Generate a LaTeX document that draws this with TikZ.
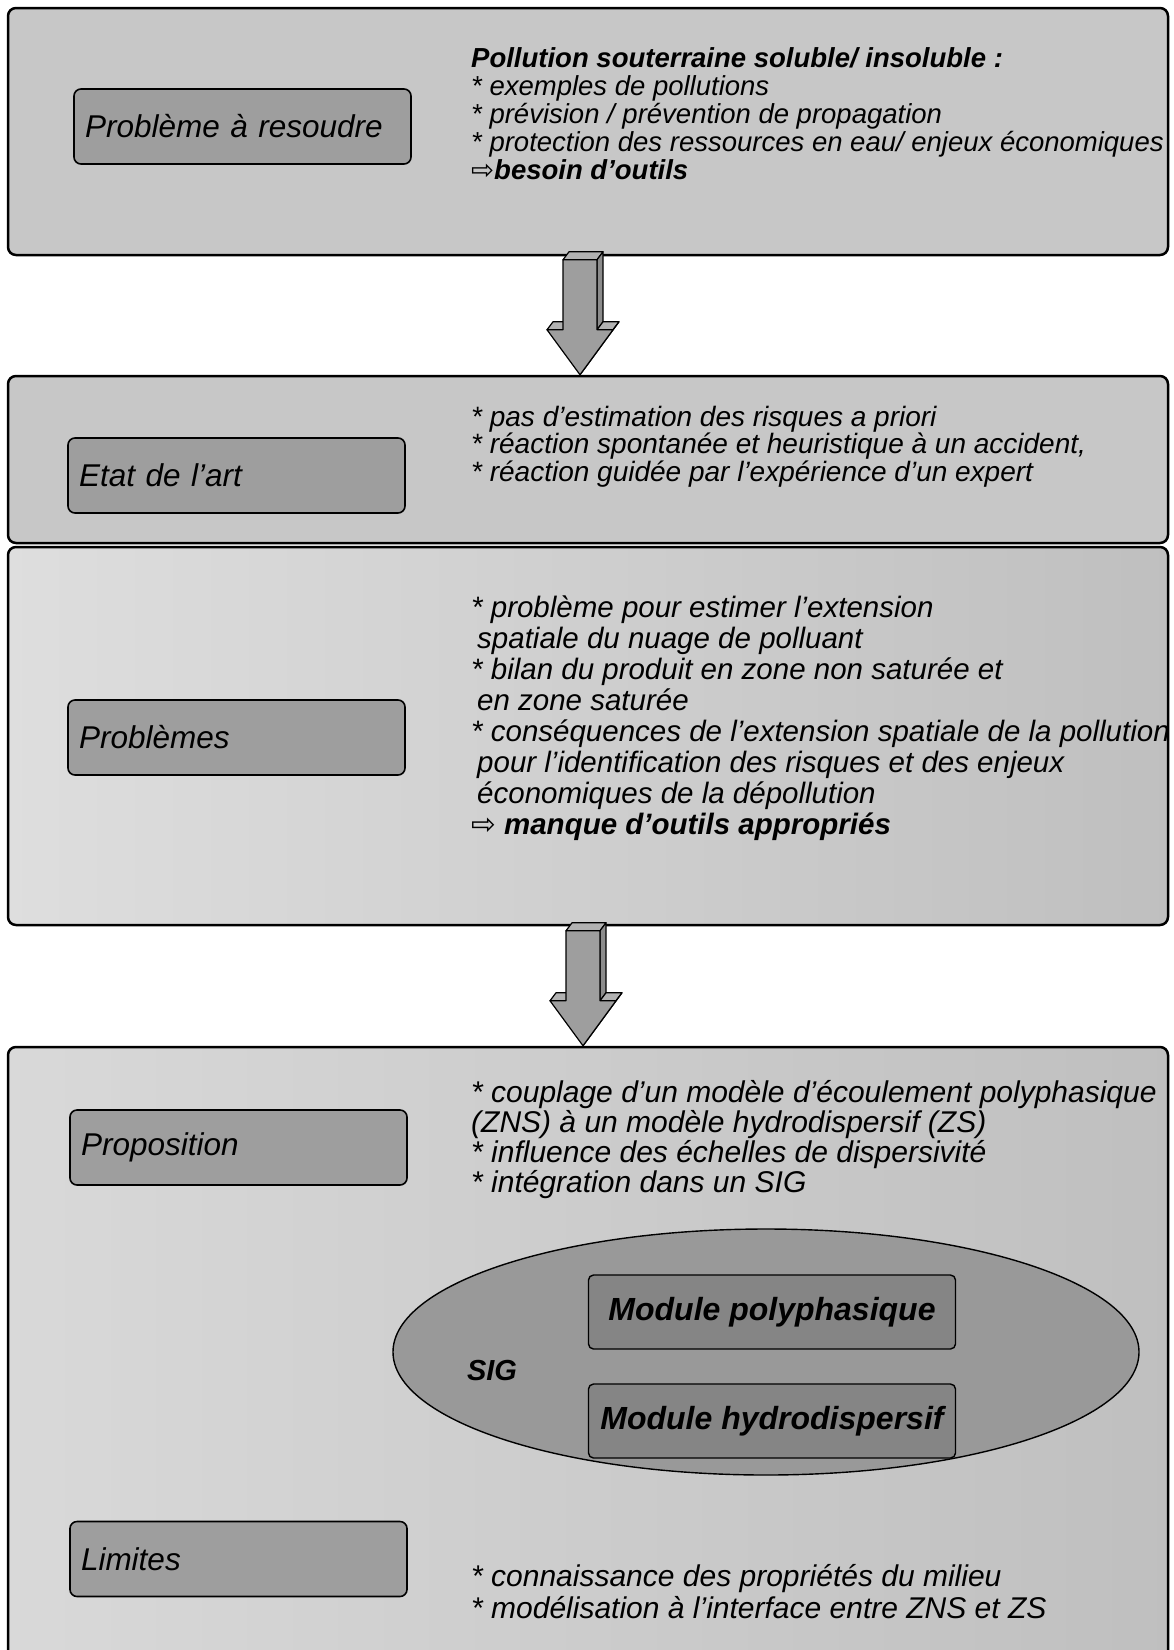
\documentclass[tikz,border=0pt]{standalone}
\usepackage{fontspec}
\usetikzlibrary{shapes.geometric}
\setmainfont{Liberation Sans}
\newfontfamily\symbfont{DejaVu Sans}
\newcommand{\imp}{{\symbfont\upshape ⇨}}

\begin{document}
\begin{tikzpicture}[x=1pt, y=-1pt, line join=round]
    \tikzstyle{frame}=[draw, line width=2.5pt, rounded corners=8pt, fill=black!22, inner sep=0pt];
    \tikzstyle{tag}=[draw, line width=1.6pt, rounded corners=7pt, fill=black!38, text width=315pt, inner xsep=11pt, minimum height=75pt, align=left, font=\fontsize{31.5}{36}\selectfont\itshape];
    \tikzstyle{module}=[draw, line width=1.4pt, rounded corners=5pt, fill=black!48, minimum width=367pt, minimum height=74pt, font=\fontsize{32}{36}\selectfont\bfseries\itshape];
    \tikzset{txt/.style={anchor=west, inner sep=0pt, text height=21pt, text depth=7pt, font=\fontsize{#1}{34}\selectfont\itshape}}
    \tikzset{bigarrow/.pic={
        \filldraw[fill=black!30, line width=1.2pt] (-17,-115) -- (-11,-123) -- (23,-123) -- (17,-115) -- cycle;
        \filldraw[fill=black!45, line width=1.2pt] (17,-115) -- (23,-123) -- (23,-53) -- (17,-45) -- cycle;
        \filldraw[fill=black!30, line width=1.2pt] (17,-45) -- (23,-53) -- (39,-53) -- (33,-45) -- cycle;
        \filldraw[fill=black!30, line width=1.2pt] (-33,-45) -- (-27,-53) -- (-11,-53) -- (-17,-45) -- cycle;
        \filldraw[fill=black!45, line width=1.2pt] (33,-45) -- (39,-53) -- (6,-8) -- (0,0) -- cycle;
        \filldraw[fill=black!38, line width=1.2pt] (-17,-115) -- (17,-115) -- (17,-45) -- (33,-45) -- (0,0) -- (-33,-45) -- (-17,-45) -- cycle;
    }}
    \useasboundingbox (0,0) rectangle (1174,1650);

    % the four frames
    \node[frame, minimum width=1160pt, minimum height=247pt] (pb) at (588,131.5) {};
    \node[frame, minimum width=1160pt, minimum height=167pt] (st) at (588,459.5) {};
    \node[frame, minimum width=1160pt, minimum height=378pt, left color=black!13, right color=black!25] (pbs) at (588,736) {};
    \node[frame, minimum width=1160pt, minimum height=626pt, left color=black!15, right color=black!25] (prop) at (588,1360) {};

    % block arrows between frames
    \pic at ([xshift=-8pt]st.north) {bigarrow};
    \pic at ([xshift=-5pt]prop.north) {bigarrow};

    % headings
    \node[tag] (tpb) at (242.5,126.5) {Problème à resoudre};
    \node[tag] (tst) at (236.5,475.5) {Etat de l’art};
    \node[tag] (tpbs) at (236.5,737.5) {Problèmes};
    \node[tag] (tprop) at (238.5,1147.5) {Proposition};
    \node[tag] (tlim) at (238.5,1559) {Limites};

    % SIG
    \node[draw, ellipse, line width=1.4pt, fill=black!40, minimum width=746pt, minimum height=246pt, inner sep=0pt] (sig) at (766,1352) {};
    \node[font=\fontsize{29}{34}\selectfont\bfseries\itshape] (siglab) at (492,1370) {SIG};
    \node[module] (poly) at (772,1312) {Module polyphasique};
    \node[module] (hydro) at (772,1421) {Module hydrodispersif};

    % texts
    \begin{scope}
        \clip (0,0) rectangle (1166,1650);
        \foreach \t [count=\i from 0] in {{\textbf{Pollution souterraine soluble/ insoluble :}}, {* exemples de pollutions}, {* prévision / prévention de propagation}, {* protection des ressources en eau/ enjeux économiques}, {\imp\textbf{besoin d’outils}}}
            \node[txt=27.5] (a\i) at (471,60+28*\i) {\t};
        \foreach \t [count=\i from 0] in {{* pas d’estimation des risques a priori}, {* réaction spontanée et heuristique à un accident,}, {* réaction guidée par l’expérience d’un expert}}
            \node[txt=28] (b\i) at (471,419+27.5*\i) {\t};
        \foreach \t [count=\i from 0] in {{* problème pour estimer l’extension}, {\hspace*{6pt}spatiale du nuage de polluant}, {* bilan du produit en zone non saturée et}, {\hspace*{6pt}en zone saturée}, {* conséquences de l’extension spatiale de la pollution}, {\hspace*{6pt}pour l’identification des risques et des enjeux}, {\hspace*{6pt}économiques de la dépollution}, {\imp\ \textbf{manque d’outils appropriés}}}
            \node[txt=29.5] (c\i) at (471,610+31*\i) {\t};
        \foreach \t [count=\i from 0] in {{* couplage d’un modèle d’écoulement polyphasique}, {(ZNS) à un modèle hydrodispersif (ZS)}, {* influence des échelles de dispersivité}, {* intégration dans un SIG}}
            \node[txt=30] (d\i) at (471,1095+30*\i) {\t};
        \foreach \t [count=\i from 0] in {{* connaissance des propriétés du milieu}, {* modélisation à l’interface entre ZNS et ZS}}
            \node[txt=30] (e\i) at (471,1579+32*\i) {\t};
    \end{scope}
\end{tikzpicture}
\end{document}
